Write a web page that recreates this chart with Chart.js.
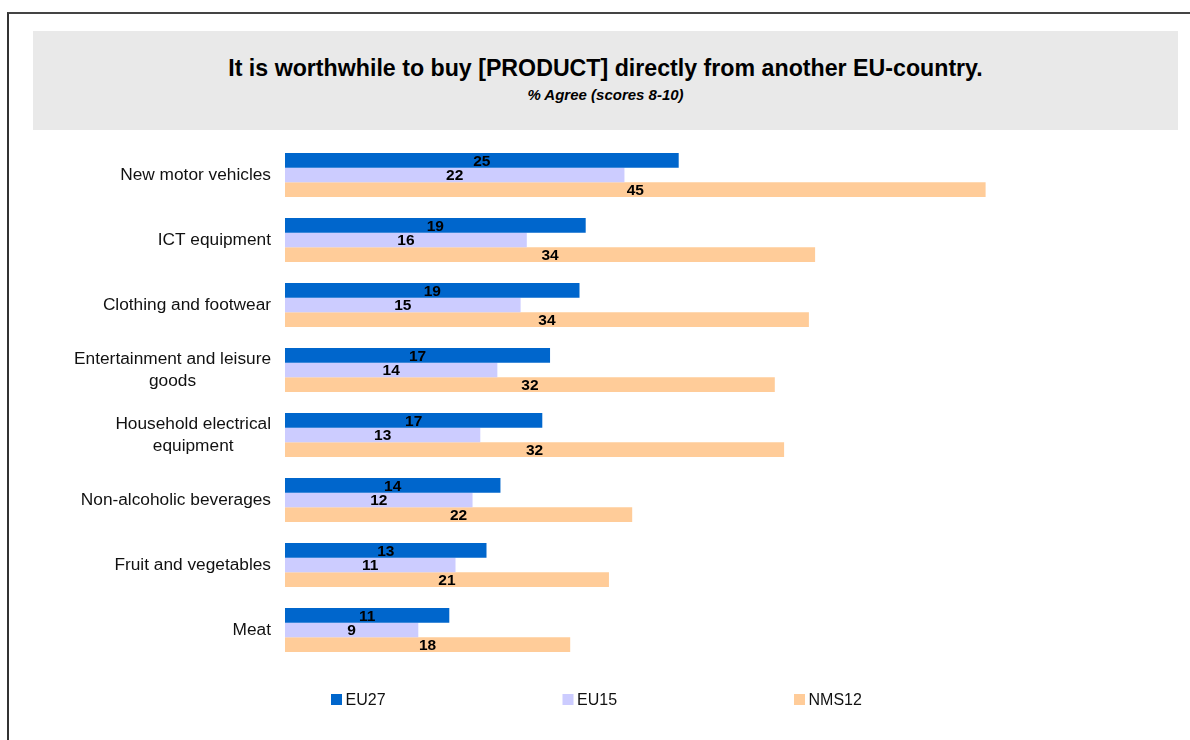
<!DOCTYPE html>
<html>
<head>
<meta charset="utf-8">
<script src="https://cdn.jsdelivr.net/npm/chart.js@4.4.1/dist/chart.umd.min.js"></script>
<style>
  html, body { margin:0; padding:0; background:#fff; }
  body { width:1190px; height:740px; position:relative; overflow:hidden; font-family:"Liberation Sans", Arial, sans-serif; }
  #frame { position:absolute; left:7px; top:12px; right:-4px; bottom:-4px; border-top:2px solid #444; border-left:2px solid #333; }
  #band { position:absolute; left:33px; top:31px; width:1145px; height:99px; background:#e9e9e9; }
  #title { position:absolute; left:33px; width:1145px; top:57px; text-align:center; font-weight:bold; font-size:23.2px; line-height:23px; color:#000; }
  #sub { position:absolute; left:33px; width:1145px; top:87px; text-align:center; font-weight:bold; font-style:italic; font-size:15px; line-height:15px; color:#000; }
  #c { position:absolute; left:0; top:0; }
</style>
</head>
<body>
<div id="frame"></div>
<div id="band"></div>
<div id="title">It is worthwhile to buy [PRODUCT] directly from another EU-country.</div>
<div id="sub">% Agree (scores 8-10)</div>
<canvas id="c" width="1190" height="740"></canvas>
<script>
// categories (top to bottom)
const categories = [
  "New motor vehicles",
  "ICT equipment",
  "Clothing and footwear",
  ["Entertainment and leisure", "goods"],
  ["Household electrical", "equipment"],
  "Non-alcoholic beverages",
  "Fruit and vegetables",
  "Meat"
];
// % agree (labels show rounded values)
const eu27  = [25.4, 19.4, 19.0, 17.1, 16.6, 13.9, 13.0, 10.6];
const eu15  = [21.9, 15.6, 15.2, 13.7, 12.6, 12.1, 11.0, 8.6];
const nms12 = [45.2, 34.2, 33.8, 31.6, 32.2, 22.4, 20.9, 18.4];
const seriesNames = ["EU27", "EU15", "NMS12"];
const colors = ["#0066cc", "#ccccff", "#ffcc99"];

const FONT = '"Liberation Sans", Arial, sans-serif';
Chart.defaults.font.family = FONT;

// category labels, right-aligned block with centered lines
const yLabels = {
  id: "yLabels",
  afterDraw(chart) {
    const ctx = chart.ctx, y = chart.scales.y;
    ctx.save();
    ctx.font = "17.3px " + FONT;
    ctx.fillStyle = "#111";
    ctx.textAlign = "center";
    ctx.textBaseline = "middle";
    categories.forEach((c, i) => {
      const lines = Array.isArray(c) ? c : [c];
      const w = Math.max(...lines.map(l => ctx.measureText(l).width));
      const cx = chart.chartArea.left - 14 - w / 2;
      const cy = y.getPixelForValue(i);
      lines.forEach((l, j) => ctx.fillText(l, cx, cy + (j - (lines.length - 1) / 2) * 22));
    });
    ctx.restore();
  }
};

// value labels centered in each bar
const valueLabels = {
  id: "valueLabels",
  afterDatasetsDraw(chart) {
    const ctx = chart.ctx;
    ctx.save();
    ctx.font = "bold 15.5px " + FONT;
    ctx.fillStyle = "#000";
    ctx.textAlign = "center";
    ctx.textBaseline = "middle";
    chart.data.datasets.forEach((ds, di) => {
      chart.getDatasetMeta(di).data.forEach((bar, i) => {
        ctx.fillText(Math.round(ds.data[i]), (bar.base + bar.x) / 2, bar.y + 1);
      });
    });
    ctx.restore();
  }
};

// legend spread across the bottom
const legendRow = {
  id: "legendRow",
  afterDraw(chart) {
    const ctx = chart.ctx;
    ctx.save();
    ctx.font = "16px " + FONT;
    ctx.textBaseline = "middle";
    chart.data.datasets.forEach((ds, i) => {
      const x = 331 + i * 231.5, yy = 699.5;
      ctx.fillStyle = ds.backgroundColor;
      ctx.fillRect(x, yy - 5.5, 11, 11);
      ctx.fillStyle = "#111";
      ctx.fillText(ds.label, x + 14.5, yy + 1);
    });
    ctx.restore();
  }
};

new Chart(document.getElementById("c"), {
  type: "bar",
  data: {
    labels: categories,
    datasets: [eu27, eu15, nms12].map((d, i) => ({
      label: seriesNames[i],
      data: d,
      backgroundColor: colors[i],
      borderWidth: 0,
      barPercentage: 1,
      categoryPercentage: 0.677
    }))
  },
  options: {
    indexAxis: "y",
    responsive: false,
    animation: false,
    layout: { padding: { left: 285, right: 130, top: 142.5, bottom: 77.5 } },
    scales: {
      x: { display: false, min: 0, max: 50 },
      y: { display: false }
    },
    plugins: { legend: { display: false }, tooltip: { enabled: false } }
  },
  plugins: [yLabels, valueLabels, legendRow]
});
</script>
</body>
</html>
